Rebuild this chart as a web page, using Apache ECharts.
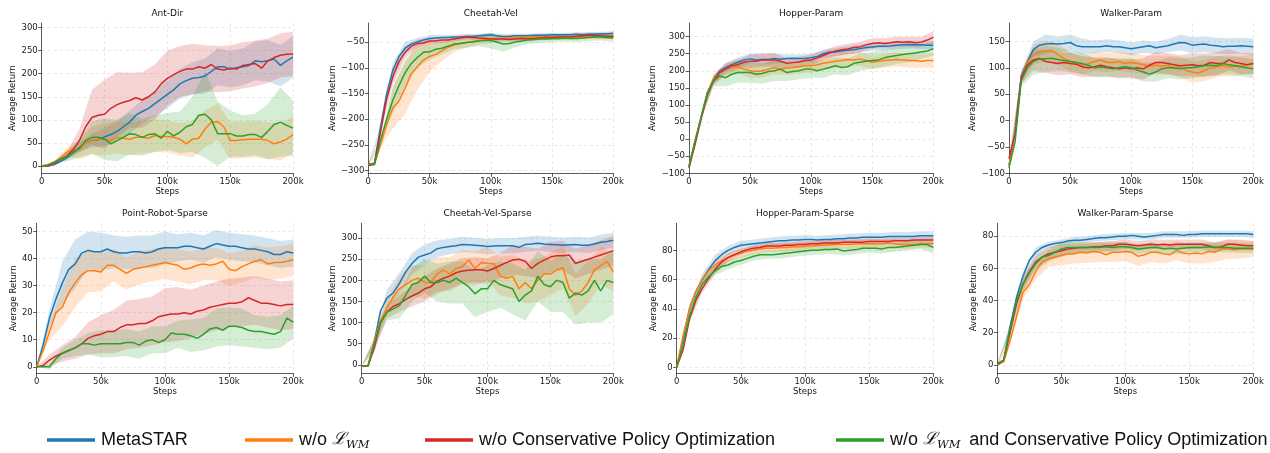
<!DOCTYPE html>
<html>
<head>
<meta charset="utf-8">
<script src="https://cdn.jsdelivr.net/npm/echarts@6/dist/echarts.min.js"></script>
<style>
html, body { margin: 0; padding: 0; background: #fff; }
#chart { width: 1270px; height: 453px; }
</style>
</head>
<body>
<div id="chart"></div>
<script>
// Training steps for the mean curves, and the coarser steps for the spread bands
const steps = [0,5000,10000,15000,20000,25000,30000,35000,40000,45000,50000,55000,60000,65000,70000,75000,80000,85000,90000,95000,100000,105000,110000,115000,120000,125000,130000,135000,140000,145000,150000,155000,160000,165000,170000,175000,180000,185000,190000,195000,200000];
const bandSteps = [0,10000,20000,30000,40000,50000,60000,70000,80000,90000,100000,110000,120000,130000,140000,150000,160000,170000,180000,190000,200000];
const xTicks = [0,50000,100000,150000,200000];

const methods = ['MetaSTAR', 'w/o L_WM', 'w/o Conservative Policy Optimization', 'w/o L_WM and Conservative Policy Optimization'];

// Ant-Dir
const antMeta   = [0,0,3,10,18,30,40,50,55,57,63,68,75,85,95,110,118,125,135,145,155,165,178,185,190,192,195,205,215,215,210,213,215,218,228,226,228,232,218,228,236];
const antNoWM   = [0,2,8,18,30,38,35,50,55,58,58,55,62,60,58,62,62,60,66,64,64,62,58,48,58,60,80,95,96,85,55,55,57,58,58,58,55,48,52,58,68];
const antNoCPO  = [0,0,5,14,22,35,55,85,105,110,112,125,133,138,142,148,143,150,160,178,190,198,205,210,210,215,212,220,210,208,212,210,218,220,222,212,228,235,240,242,243];
const antNoBoth = [0,2,8,15,20,28,38,55,62,62,58,48,55,62,70,68,62,68,70,60,75,65,73,85,90,110,112,100,70,70,70,65,65,68,68,62,75,90,95,88,82];
const antMetaSd   = [0,2,5,10,15,20,22,25,25,28,30,32,35,38,40,40,40,42,45,45,45];
const antNoWMSd   = [0,3,10,20,30,35,35,35,35,35,35,35,40,40,40,40,40,40,40,40,40];
const antNoCPOSd  = [0,2,8,25,60,75,70,60,60,60,60,55,55,50,50,50,50,50,48,48,48];
const antNoBothSd = [0,3,10,20,35,45,45,45,40,40,40,45,60,95,70,50,45,45,60,75,60];
const antTicks = [0,50,100,150,200,250,300];

// Cheetah-Vel
const chvMeta   = [-288,-285,-215,-150,-105,-78,-62,-54,-50,-46,-43,-42,-41,-41,-40,-40,-39,-39,-38,-37,-36,-38,-39,-39,-38,-38,-38,-37,-37,-37,-36,-36,-36,-36,-35,-36,-35,-35,-34,-34,-33];
const chvNoWM   = [-288,-287,-250,-210,-178,-165,-140,-112,-98,-85,-78,-74,-67,-60,-56,-53,-51,-49,-47,-46,-45,-44,-43,-42,-42,-41,-41,-40,-40,-40,-40,-40,-40,-39,-39,-39,-38,-38,-38,-38,-38];
const chvNoCPO  = [-290,-288,-225,-160,-118,-88,-70,-58,-53,-52,-48,-48,-46,-46,-44,-42,-40,-41,-42,-43,-44,-44,-44,-45,-44,-43,-44,-43,-42,-41,-41,-40,-40,-40,-39,-38,-37,-38,-38,-39,-39];
const chvNoBoth = [-287,-288,-240,-200,-163,-135,-110,-92,-80,-70,-69,-64,-62,-58,-54,-53,-51,-50,-48,-47,-47,-50,-54,-53,-50,-48,-46,-45,-44,-44,-43,-43,-42,-43,-43,-42,-41,-40,-40,-41,-42];
const chvMetaSd   = [2,3,15,12,8,6,5,4,4,4,4,4,4,4,4,4,4,4,4,4,4];
const chvNoWMSd   = [2,3,40,50,45,30,20,14,10,8,7,6,6,6,6,6,6,6,6,6,6];
const chvNoCPOSd  = [2,3,15,12,8,6,6,5,5,5,5,5,5,5,5,5,5,5,5,5,5];
const chvNoBothSd = [2,3,25,25,20,15,12,10,10,10,15,15,10,8,8,7,7,7,7,7,7];
const chvTicks = [-300,-250,-200,-150,-100,-50];

// Hopper-Param
const hpMeta   = [-80,-5,65,135,175,200,210,218,225,232,235,232,233,233,236,234,236,237,236,236,238,242,250,255,255,258,260,262,265,268,270,272,272,273,275,276,277,276,276,275,275];
const hpNoWM   = [-80,-5,65,135,175,195,205,210,212,205,200,198,200,205,210,205,208,210,212,215,215,218,222,225,228,230,233,232,235,230,225,228,230,232,233,232,230,230,228,230,230];
const hpNoCPO  = [-85,-15,60,130,170,195,205,215,218,225,228,228,232,232,232,228,222,224,226,230,232,238,245,252,258,262,264,268,270,276,280,282,280,282,285,284,285,282,284,290,298];
const hpNoBoth = [-80,-5,65,135,170,185,180,190,195,195,195,190,192,198,200,205,195,198,200,205,205,200,205,210,215,210,212,222,225,228,230,232,238,242,245,248,250,252,255,258,265];
const hpMetaSd   = [5,5,12,12,15,15,15,15,12,12,12,12,12,12,12,12,12,12,12,12,12];
const hpNoWMSd   = [5,5,15,20,20,20,20,20,20,20,20,20,20,20,20,20,20,20,20,20,20];
const hpNoCPOSd  = [5,5,12,15,15,20,20,20,15,15,15,15,15,15,15,15,15,15,15,15,18];
const hpNoBothSd = [5,5,15,25,30,30,30,30,25,25,25,25,25,25,25,25,25,25,25,20,20];
const hpTicks = [-100,-50,0,50,100,150,200,250,300];

// Walker-Param
const wpMeta   = [-85,-20,85,112,135,143,145,146,145,146,148,142,140,140,140,140,142,140,140,138,136,138,140,142,138,140,142,145,148,147,143,144,145,143,142,140,141,141,142,141,140];
const wpNoWM   = [-85,-25,80,110,125,130,132,133,125,118,112,110,105,108,112,115,110,110,112,108,110,108,106,103,105,103,105,100,102,95,92,90,95,100,102,104,102,103,104,106,108];
const wpNoCPO  = [-72,-25,80,105,115,118,112,110,108,110,108,107,102,100,102,105,102,100,98,100,98,100,98,105,110,110,108,106,104,105,106,104,105,110,108,108,115,110,108,106,108];
const wpNoBoth = [-90,-40,75,100,112,117,117,118,116,114,112,110,108,105,100,102,100,98,100,102,100,96,92,88,92,98,100,100,98,100,100,102,104,105,104,108,106,104,102,100,98];
const wpMetaSd   = [5,10,15,18,15,15,15,12,12,12,12,12,12,12,15,15,15,15,15,15,15];
const wpNoWMSd   = [5,10,20,20,20,18,18,18,18,18,18,18,18,18,20,20,20,20,18,18,18];
const wpNoCPOSd  = [5,10,20,22,22,20,20,18,18,18,18,20,20,20,20,22,22,22,20,20,20];
const wpNoBothSd = [5,10,25,25,22,20,20,18,18,18,18,18,18,20,20,20,20,18,18,18,18];
const wpTicks = [-100,-50,0,50,100,150];

// Point-Robot-Sparse
const prMeta   = [0,8,18,25,31,36,38,42,43,42.5,42.5,43.5,42.5,42,42,42.5,42.5,42,42.5,43.5,44,44,44,44.5,44.5,44,43.5,44.5,45.5,45,44.5,44.5,44,43.5,43.5,43,42.5,41.5,41.5,42.5,42];
const prNoWM   = [0,6,13,20,22,27.5,31,34,35.5,35.5,35,37.5,37.5,36,34.5,36,36.5,37,37.5,38,38.5,38,37.5,36,36.5,37.5,38,37.5,38,39,36,35.5,37,38,39,39.5,38,38.5,38.5,39,39.5];
const prNoCPO  = [0,0.5,2.5,4,5,6,7,8.5,10.5,11.5,12,13,13,14.5,15.5,15.5,16,16,17,18.5,19,19.5,19.5,20,19.5,20.5,21,22,22.5,23,23.5,23.5,24,25.5,24.5,23.5,23.5,23,22.5,23,23];
const prNoBoth = [0,0,0,3,5,6,7,8.5,8.5,8,8.5,8.5,8.5,8.5,9,9,8,9.5,10,9,10,12.5,12,12,11.5,10.5,12,14,14.5,13.5,15,15,14.5,13.5,13,13,12.5,12,13,18,16.5];
const prMetaSd   = [0,3,8,9,7,7,6,6,6,6,6,5,5,5,5,5,5,5,5,5,5];
const prNoWMSd   = [0,3,7,9,8,7,6,6,6,6,6,6,6,6,6,6,6,6,6,6,6];
const prNoCPOSd  = [0,2,3,4,6,7,8,9,9,9,10,10,9,9,9,9,9,9,9,9,9];
const prNoBothSd = [0,1,2,3,4,5,5,5,5,5,5,5,6,6,7,7,7,6,6,6,6];
const prTicks = [0,10,20,30,40,50];

// Cheetah-Vel-Sparse
const cvsMeta   = [-3,-3,55,128,158,170,193,220,240,255,260,265,275,278,280,282,285,284,283,282,280,281,282,282,282,278,285,286,288,286,285,284,283,284,285,283,283,286,290,292,295];
const cvsNoWM   = [-3,-2,55,105,135,160,180,190,200,205,195,195,215,225,215,228,232,248,228,242,240,240,210,205,210,180,195,180,200,215,215,225,230,180,165,175,195,225,235,245,220];
const cvsNoCPO  = [-3,-3,40,100,125,138,145,155,163,170,180,185,198,205,210,218,222,224,225,225,222,228,235,242,248,250,245,228,240,248,255,258,258,260,240,245,250,255,260,265,270];
const cvsNoBoth = [-3,-3,50,100,125,132,140,165,190,195,210,195,195,200,195,205,195,185,168,180,180,200,190,185,180,150,165,175,210,190,185,200,195,158,170,165,175,200,175,200,195];
const cvsMetaSd   = [0,10,20,25,25,25,20,18,18,18,18,18,18,18,18,18,18,18,18,18,18];
const cvsNoWMSd   = [0,10,20,30,35,40,40,40,40,40,40,45,50,50,50,50,50,50,50,45,45];
const cvsNoCPOSd  = [0,10,15,20,25,30,30,30,30,30,30,30,35,35,35,35,35,35,35,35,35];
const cvsNoBothSd = [0,10,20,30,40,40,45,50,50,55,55,55,60,60,60,60,70,75,75,75,75];
const cvsTicks = [0,50,100,150,200,250,300];

// Hopper-Param-Sparse
const hpsMeta   = [0,20,40,52,60,67,73,77,80,82,83.5,84,84.5,85,85.5,86,86.5,86.5,87,87,87.5,87.5,87,87.5,87.5,88,88,88.5,88.5,89,89,89,89,89.5,89.5,89.5,89.5,89.5,90,90,90];
const hpsNoWM   = [0,22,40,52,60,66,70,73,75,77,78,79.5,80,81,81.5,81.5,82,82,82.5,82.5,83,83,83.5,83.5,84,84,84,84,84.5,84.5,84.5,84.5,84.5,85,84.5,84,84,84,84.5,84.5,84.5];
const hpsNoCPO  = [0,12,33,46,54,61,67,72,75,77,79,80.5,81.5,82,83,83,83,83.5,83.5,84,84,84.5,84.5,85,85,85,85.5,85.5,85.5,85.5,86,86,86,86,86.5,86.5,86.5,87,87,87,87];
const hpsNoBoth = [0,15,35,48,57,62,66,69,70,72,73,74.5,76,77,77,77,77.5,78,78.5,79,79.5,80,80,80.5,80.5,81,79.5,80,80.5,81.5,81.5,81.5,81,82,82,82.5,83,83.5,84,84,82];
const hpsMetaSd   = [0,3,4,4,3,3,3,3,3,3,3,3,3,3,3,3,3,3,3,3,3];
const hpsNoWMSd   = [0,3,3,3,3,3,3,3,3,3,3,3,3,3,3,3,3,3,3,3,3];
const hpsNoCPOSd  = [0,2,3,3,3,2,2,2,2,2,2,2,2,2,2,2,2,2,2,2,2.5];
const hpsNoBothSd = [0,3,3,3,3,3,3,3,3,3,3,3,3,3,3,3,3,3,3,3,4];
const hpsTicks = [0,20,40,60,80];

// Walker-Param-Sparse
const wpsMeta   = [0,3,24,42,55,65,70,73,74.5,75.5,76,77,77.5,77.5,78,78.5,79,79,79.5,80,80,80.5,80,79.5,80,80.5,81,81,81,80.5,81,81,81.5,81.5,81.5,81.5,81.5,81.5,81.5,81.5,81];
const wpsNoWM   = [0,2,15,30,45,50,58,64,66,67,68,69,69,70,69.5,70.5,70,68.5,70,70,70.5,70,67.5,68.5,70,70,69,68.5,71,69.5,69,69.5,69,70.5,70,72,72,71.5,72,72,72];
const wpsNoCPO  = [1,3,20,38,50,58,64,67,69,70,71,72,72.5,73,73,73.5,73.5,74,74,75,75,74.5,74,74.5,75,74.5,75,74.5,75,75,75,75,75,74,73,73.5,75,75,74.5,74,74];
const wpsNoBoth = [0,3,22,40,50,57,63,67,68,70,72,73,73,73,73,73,73,73.5,73,73.5,73.5,73,72,72.5,73,73,72,72.5,72,72.5,73,73,73,73.5,73,73,73,72.5,72.5,72.5,72.5];
const wpsMetaSd   = [0,2,3,3,2,2,2,2,2,2,2,2,2,2,2,2,2,2,2,2,2];
const wpsNoWMSd   = [0,2,4,5,5,6,6,6,6,6,6,6,6,6,6,6,6,6,6,6,5];
const wpsNoCPOSd  = [1,2,4,4,4,4,3,3,3,3,3,3,3,3,3,3,3,3,3,3,3];
const wpsNoBothSd = [0,2,4,4,4,4,4,3,3,3,3,3,3,3,3,3,3,3,3,3,3];
const wpsTicks = [0,20,40,60,80];

const panels = [
  { title: 'Ant-Dir', mean: [antMeta, antNoWM, antNoCPO, antNoBoth], sd: [antMetaSd, antNoWMSd, antNoCPOSd, antNoBothSd], yMin: -16, yMax: 310, yTicks: antTicks },
  { title: 'Cheetah-Vel', mean: [chvMeta, chvNoWM, chvNoCPO, chvNoBoth], sd: [chvMetaSd, chvNoWMSd, chvNoCPOSd, chvNoBothSd], yMin: -305, yMax: -13, yTicks: chvTicks },
  { title: 'Hopper-Param', mean: [hpMeta, hpNoWM, hpNoCPO, hpNoBoth], sd: [hpMetaSd, hpNoWMSd, hpNoCPOSd, hpNoBothSd], yMin: -100, yMax: 340, yTicks: hpTicks },
  { title: 'Walker-Param', mean: [wpMeta, wpNoWM, wpNoCPO, wpNoBoth], sd: [wpMetaSd, wpNoWMSd, wpNoCPOSd, wpNoBothSd], yMin: -100, yMax: 185, yTicks: wpTicks },
  { title: 'Point-Robot-Sparse', mean: [prMeta, prNoWM, prNoCPO, prNoBoth], sd: [prMetaSd, prNoWMSd, prNoCPOSd, prNoBothSd], yMin: -2.4, yMax: 53, yTicks: prTicks },
  { title: 'Cheetah-Vel-Sparse', mean: [cvsMeta, cvsNoWM, cvsNoCPO, cvsNoBoth], sd: [cvsMetaSd, cvsNoWMSd, cvsNoCPOSd, cvsNoBothSd], yMin: -20, yMax: 335, yTicks: cvsTicks },
  { title: 'Hopper-Param-Sparse', mean: [hpsMeta, hpsNoWM, hpsNoCPO, hpsNoBoth], sd: [hpsMetaSd, hpsNoWMSd, hpsNoCPOSd, hpsNoBothSd], yMin: -4.1, yMax: 98.5, yTicks: hpsTicks },
  { title: 'Walker-Param-Sparse', mean: [wpsMeta, wpsNoWM, wpsNoCPO, wpsNoBoth], sd: [wpsMetaSd, wpsNoWMSd, wpsNoCPOSd, wpsNoBothSd], yMin: -5.2, yMax: 88, yTicks: wpsTicks }
];

// Layout of the 2 x 4 panel grid (plot areas in px) and y-label offsets
const boxes = [
  { left: 41.7, top: 23, width: 251.3, height: 150.3, nameGap: 20.7 },
  { left: 368.3, top: 23, width: 245, height: 150.3, nameGap: 27.3 },
  { left: 689, top: 23, width: 244.3, height: 150.3, nameGap: 28 },
  { left: 1009, top: 23, width: 244.3, height: 150.3, nameGap: 27 },
  { left: 36.7, top: 223.3, width: 256.6, height: 150, nameGap: 15.7 },
  { left: 361.7, top: 223.3, width: 251.6, height: 150, nameGap: 20.7 },
  { left: 676.7, top: 223.3, width: 256.6, height: 150, nameGap: 15.7 },
  { left: 997.3, top: 223.3, width: 256, height: 150, nameGap: 15.3 }
];
const colors = ['#1f77b4', '#ff7f0e', '#d62728', '#2ca02c'];
const bandFills = ['rgba(31,119,180,0.2)', 'rgba(255,127,14,0.2)', 'rgba(214,39,40,0.2)', 'rgba(44,160,44,0.2)'];
const legendLeft = [47, 245, 425, 836];
const tickFont = 'DejaVu Sans';
const axisColor = '#333';

const minus = v => String(v).replace('-', '\u2212');

const grid = [], xAxis = [], yAxis = [], series = [], title = [];
panels.forEach((p, i) => {
  const b = boxes[i];
  grid.push({ left: b.left, top: b.top, width: b.width, height: b.height });
  title.push({
    text: p.title, left: b.left + b.width / 2, top: b.top - 14, textAlign: 'center', padding: 0,
    textStyle: { fontFamily: tickFont, fontSize: 9, fontWeight: 'normal', color: '#111' }
  });
  xAxis.push({
    type: 'value', gridIndex: i, min: 0, max: 200000, interval: 50000,
    name: 'Steps', nameLocation: 'middle', nameGap: 14,
    nameTextStyle: { fontFamily: tickFont, fontSize: 8.5, color: '#111' },
    axisLine: { show: true, onZero: false, lineStyle: { color: axisColor, width: 0.8 } },
    axisTick: { show: true, length: 3.5, lineStyle: { color: axisColor, width: 0.8 } },
    axisLabel: { margin: 4, fontFamily: tickFont, fontSize: 8.5, color: '#222',
      formatter: v => v === 0 ? '0' : (v / 1000) + 'k' },
    splitLine: { show: true, lineStyle: { color: '#d9d9d9', width: 0.6, type: [3, 3] } }
  });
  yAxis.push({
    type: 'value', gridIndex: i, min: p.yMin, max: p.yMax,
    name: 'Average Return', nameLocation: 'middle', nameGap: b.nameGap, nameRotate: 90,
    nameTextStyle: { fontFamily: tickFont, fontSize: 8.5, color: '#111' },
    axisLine: { show: true, lineStyle: { color: axisColor, width: 0.8 } },
    axisTick: { show: true, length: 3.5, customValues: p.yTicks, lineStyle: { color: axisColor, width: 0.8 } },
    axisLabel: { margin: 4, fontFamily: tickFont, fontSize: 8.5, color: '#222', customValues: p.yTicks, formatter: minus },
    splitLine: { show: true, lineStyle: { color: '#d9d9d9', width: 0.6, type: [3, 3] } }
  });
  // shaded spread bands, one polygon per method
  methods.forEach((m, k) => {
    const mean = p.mean[k], sd = p.sd[k];
    const upper = bandSteps.map((x, j) => [x, mean[j * 2] + sd[j]]);
    const lower = bandSteps.map((x, j) => [x, mean[j * 2] - sd[j]]);
    series.push({
      type: 'custom', xAxisIndex: i, yAxisIndex: i, silent: true, z: 1, clip: true,
      data: upper,
      renderItem: (params, api) => {
        if (params.dataIndex !== 0) return null;
        const pts = upper.map(d => api.coord(d)).concat(lower.slice().reverse().map(d => api.coord(d)));
        return { type: 'polygon', shape: { points: pts }, style: { fill: bandFills[k] } };
      }
    });
  });
  // mean return curves
  methods.forEach((m, k) => {
    series.push({
      type: 'line', name: m, xAxisIndex: i, yAxisIndex: i, z: 3,
      showSymbol: false, symbol: 'none', smooth: false, clip: true,
      color: colors[k],
      lineStyle: { color: colors[k], width: 1.5 },
      data: steps.map((x, j) => [x, p.mean[k][j]])
    });
  });
});

const rich = {
  t: { fontFamily: 'Liberation Sans', fontSize: 18, color: '#111', lineHeight: 22 },
  m: { fontFamily: 'DejaVu Serif', fontStyle: 'italic', fontSize: 17, color: '#111', lineHeight: 22 },
  s: { fontFamily: 'DejaVu Serif', fontStyle: 'italic', fontSize: 11.5, color: '#111', lineHeight: 12, verticalAlign: 'bottom' }
};
const legendText = {
  'MetaSTAR': '{t|MetaSTAR}',
  'w/o L_WM': '{t|w/o }{m|\u2112}{s|WM}',
  'w/o Conservative Policy Optimization': '{t|w/o Conservative Policy Optimization}',
  'w/o L_WM and Conservative Policy Optimization': '{t|w/o }{m|\u2112}{s|WM }{t| and Conservative Policy Optimization}'
};
const legend = methods.map((m, k) => ({
  data: [m], left: legendLeft[k], top: 431, orient: 'horizontal', padding: 0,
  icon: 'rect', itemWidth: 48, itemHeight: 3.5, selectedMode: false,
  itemStyle: { color: colors[k] },
  formatter: name => legendText[name],
  textStyle: { fontFamily: 'Liberation Sans', fontSize: 18, color: '#111', padding: [0, 0, 0, 1], rich }
}));

const chart = echarts.init(document.getElementById('chart'), null, { renderer: 'canvas' });
chart.setOption({
  animation: false,
  backgroundColor: '#fff',
  title, grid, xAxis, yAxis, legend, series
});
</script>
</body>
</html>
